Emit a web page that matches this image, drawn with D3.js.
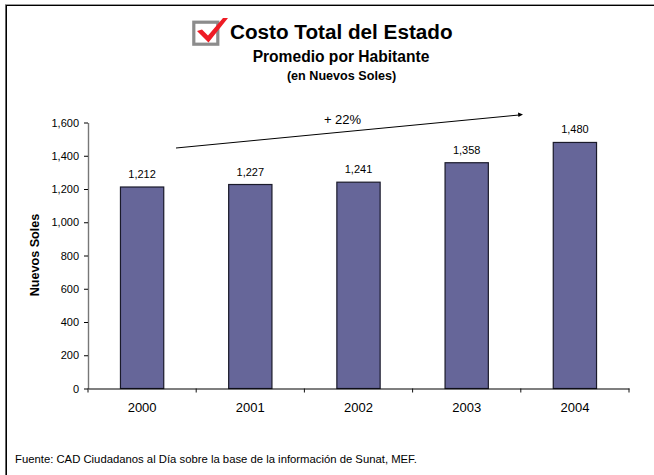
<!DOCTYPE html>
<html>
<head>
<meta charset="utf-8">
<script src="https://cdn.jsdelivr.net/npm/d3@7"></script>
<style>
html, body { margin: 0; padding: 0; background: #fff; }
svg { display: block; }
text { font-family: "Liberation Sans", Arial, sans-serif; fill: #000; }
</style>
</head>
<body>
<script>
var years = ['2000', '2001', '2002', '2003', '2004'];
var costo = [1212, 1227, 1241, 1358, 1480];
var yTicks = [0, 200, 400, 600, 800, 1000, 1200, 1400, 1600];

var width = 654, height = 475;
var plot = { left: 88, right: 629, top: 122.5, bottom: 388.5 };

var svg = d3.select('body').append('svg').attr('width', width).attr('height', height);

// frame round the slide: only top and left are in the picture
svg.append('line').attr('x1', 5).attr('x2', 654).attr('y1', 4.5).attr('y2', 4.5).attr('stroke', '#999').attr('stroke-width', 1);
svg.append('line').attr('x1', 5).attr('x2', 654).attr('y1', 5.5).attr('y2', 5.5).attr('stroke', '#000').attr('stroke-width', 1);
svg.append('line').attr('x1', 5.5).attr('x2', 5.5).attr('y1', 5).attr('y2', 475).attr('stroke', '#666').attr('stroke-width', 1);
svg.append('line').attr('x1', 6.5).attr('x2', 6.5).attr('y1', 5).attr('y2', 475).attr('stroke', '#000').attr('stroke-width', 1);

var x = d3.scaleBand().domain(years).range([plot.left, plot.right]).paddingInner(0.6).paddingOuter(0.3);
var xAxisBand = d3.scaleBand().domain(years).range([plot.left, plot.right]);
var y = d3.scaleLinear().domain([0, 1600]).range([plot.bottom, plot.top]);
var fmt = d3.format(',');

// bars
svg.selectAll('rect.bar').data(costo).enter().append('rect')
	.attr('class', 'bar')
	.attr('x', (d, i) => x(years[i]))
	.attr('y', d => y(d))
	.attr('width', x.bandwidth())
	.attr('height', d => plot.bottom - y(d))
	.attr('fill', '#666699').attr('stroke', '#1a1a2a').attr('stroke-width', 1.2);

// value labels
svg.selectAll('text.val').data(costo).enter().append('text')
	.attr('class', 'val')
	.attr('x', (d, i) => x(years[i]) + x.bandwidth() / 2)
	.attr('y', d => y(d) - 9)
	.attr('text-anchor', 'middle').attr('font-size', 11).text(d => fmt(d));

// axes
var yAxis = svg.append('g').attr('transform', 'translate(' + plot.left + ',0)')
	.call(d3.axisLeft(y).tickValues(yTicks).tickFormat(fmt).tickSize(4).tickSizeOuter(0).tickPadding(5));
yAxis.selectAll('text').attr('font-size', 11).style('font-family', '"Liberation Sans", Arial, sans-serif');
yAxis.select('.domain').attr('stroke', '#777').attr('stroke-width', 1.4);

var xAxis = svg.append('g').attr('transform', 'translate(0,' + plot.bottom + ')')
	.call(d3.axisBottom(xAxisBand).tickSize(0).tickSizeOuter(0).tickPadding(14));
xAxis.selectAll('text').attr('font-size', 13).style('font-family', '"Liberation Sans", Arial, sans-serif');
xAxis.select('.domain').attr('stroke', '#000').attr('stroke-width', 1.2);
xAxis.selectAll('line.sep').data(d3.range(years.length + 1)).enter().append('line')
	.attr('class', 'sep')
	.attr('x1', i => plot.left + i * xAxisBand.step()).attr('x2', i => plot.left + i * xAxisBand.step())
	.attr('y1', 0).attr('y2', 4).attr('stroke', '#111');

// axis title
svg.append('text').attr('transform', 'translate(39,255) rotate(-90)')
	.attr('text-anchor', 'middle').attr('font-size', 12.6).attr('font-weight', 'bold').text('Nuevos Soles');

// titles
svg.append('text').attr('x', 230).attr('y', 38.5).attr('font-size', 20.7).attr('font-weight', 'bold').text('Costo Total del Estado');
svg.append('text').attr('x', 341).attr('y', 62).attr('text-anchor', 'middle').attr('font-size', 15.6).attr('font-weight', 'bold').text('Promedio por Habitante');
svg.append('text').attr('x', 341.5).attr('y', 80).attr('text-anchor', 'middle').attr('font-size', 12.6).attr('font-weight', 'bold').text('(en Nuevos Soles)');

// check box icon
svg.append('rect').attr('x', 193.8).attr('y', 22.2).attr('width', 24).attr('height', 22)
	.attr('fill', '#fff').attr('stroke', '#8c8c8c').attr('stroke-width', 3.2);
svg.append('path').attr('d', 'M197,31L202,29.5L208,35.5L223,18L228,18L208.5,42.5Z').attr('fill', '#ee1c25');

// trend arrow
svg.append('line').attr('x1', 176).attr('y1', 148).attr('x2', 519).attr('y2', 115).attr('stroke', '#000').attr('stroke-width', 1);
svg.append('path').attr('d', 'M523,114.6L518,112.6L518.4,117Z').attr('fill', '#000');
svg.append('text').attr('x', 342.5).attr('y', 124).attr('text-anchor', 'middle').attr('font-size', 13).text('+ 22%');

// source
svg.append('text').attr('x', 15).attr('y', 463).attr('font-size', 11.3).text('Fuente: CAD Ciudadanos al Día sobre la base de la información de Sunat, MEF.');
</script>
</body>
</html>
